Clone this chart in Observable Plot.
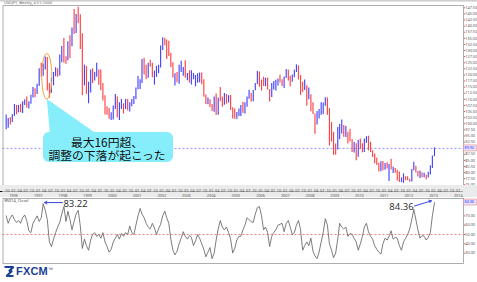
<!DOCTYPE html>
<html><head><meta charset="utf-8">
<script src="https://cdn.jsdelivr.net/npm/d3@7"></script>
<script src="https://cdn.jsdelivr.net/npm/@observablehq/plot@0.6"></script>
<style>
html,body{margin:0;padding:0;background:#fff;}
body{width:477px;height:282px;overflow:hidden;position:relative;font-family:Arial,"Liberation Sans",sans-serif;}
.abs{position:absolute;left:0;}
svg{display:block;}
</style></head><body>
<div id="main" class="abs" style="top:0"></div>
<div id="strip" class="abs" style="top:185px"></div>
<div id="rsi" class="abs" style="top:197px"></div>
<svg id="ov" class="abs" style="top:0;pointer-events:none" width="477" height="282"></svg>
<div id="logo" class="abs" style="top:265px;left:4px;display:flex;align-items:center;">
  <svg width="10" height="11" viewBox="0 0 10 11"><path d="M0.5 1 H9.5 L5 5 H8 L2.5 10 H9.5" fill="none" stroke="#1b3f95" stroke-width="2.2" stroke-linejoin="bevel"/></svg>
  <span style="font:bold 11px Arial,'Liberation Sans',sans-serif;color:#1b3f95;margin-left:2px;letter-spacing:0.2px">FXCM</span><span style="font:5px Arial;color:#1b3f95;align-self:flex-start;margin-top:1px">™</span>
</div>
<script>
// ---- data: USD/JPY monthly (Sep 1995 – Jan 2013) ----
const startMonth = [1995, 8];            // Sep 1995 (UTC month index)
const monthCount = 209;
const firstOpen = 97.6;
const close = [
99.6,102.0,101.6,103.5,
106.9,104.7,106.9,104.6,108.5,109.5,106.8,108.6,111.4,114.0,113.8,115.8,
121.2,120.1,123.9,126.9,116.4,114.6,118.4,120.6,120.6,120.3,127.8,130.5,
126.9,126.4,133.3,132.5,139.1,138.5,144.6,141.7,135.9,116.1,122.6,113.1,
116.1,118.7,118.5,119.6,121.6,120.8,114.7,109.8,106.1,104.3,102.1,102.2,
107.2,109.9,102.9,106.4,107.9,106.1,109.6,106.8,108.0,108.9,110.5,114.4,
116.6,117.4,126.1,123.4,118.9,124.7,124.6,118.9,119.4,122.6,123.7,131.5,
134.6,133.6,132.7,128.6,123.9,119.8,119.9,118.4,121.7,122.5,122.5,118.8,
119.9,117.9,118.0,119.0,119.3,119.8,120.6,116.9,111.3,109.6,109.7,107.2,
105.9,109.2,103.9,110.4,109.5,108.8,111.5,109.3,110.0,105.8,103.1,102.6,
103.6,104.6,107.2,104.9,108.4,110.8,112.4,111.1,113.4,116.4,119.8,117.8,
117.2,115.8,117.8,113.9,112.7,114.5,114.7,117.4,118.1,116.9,115.8,119.0,
121.0,118.6,117.8,119.5,121.7,123.2,118.7,115.8,114.8,115.3,111.1,111.7,
106.4,103.9,99.7,104.0,105.5,106.2,107.9,108.8,106.1,98.4,95.5,90.6,
89.9,97.6,98.1,98.6,95.3,96.4,94.7,93.1,89.7,90.3,86.3,93.1,
90.3,88.9,93.5,94.0,91.2,88.4,86.5,84.2,83.5,80.4,83.7,81.1,
82.1,81.8,83.1,81.2,81.5,80.5,76.7,76.6,77.1,78.2,77.6,76.9,
76.2,81.2,82.9,80.0,78.3,79.8,78.1,78.4,77.9,79.8,82.5,86.7,
89.9];
const high = [
103.6,102.2,102.6,103.7,
107.9,107.5,107.5,108.0,109.0,109.8,111.0,109.0,111.7,114.9,114.3,116.2,
122.5,124.8,124.5,127.3,127.1,116.5,118.8,121.0,122.9,122.5,128.2,131.6,
135.0,127.4,133.6,136.0,139.2,146.8,144.8,147.7,144.7,136.9,124.0,123.5,
117.0,122.0,122.5,121.0,124.8,122.0,122.0,116.5,111.5,107.0,106.2,104.5,
107.3,112.0,111.0,108.6,110.0,108.2,110.0,109.9,108.6,109.9,111.2,114.6,
119.4,118.0,126.3,126.8,124.0,124.8,126.0,124.8,121.6,123.5,124.0,131.8,
135.2,135.0,134.3,133.8,128.9,125.0,120.5,121.0,124.0,125.6,123.0,125.8,
120.6,121.7,121.7,120.6,119.8,120.5,120.8,120.8,118.0,111.8,110.6,109.8,
107.9,111.0,112.2,110.6,114.9,111.0,112.4,112.0,111.5,111.6,106.6,106.0,
104.6,106.0,107.5,108.8,108.6,111.0,113.7,112.4,113.6,116.5,121.4,121.2,
117.9,119.0,118.6,118.7,114.0,116.5,117.3,117.8,118.3,119.9,118.0,119.2,
122.2,122.0,119.5,120.0,121.9,124.1,123.7,119.8,117.0,117.9,115.6,114.6,
111.9,108.6,104.0,105.0,105.8,108.6,108.5,110.7,110.6,106.2,100.5,96.5,
91.7,98.5,99.7,101.5,99.3,98.9,96.5,97.8,93.4,92.3,91.8,93.2,
93.8,91.8,93.8,94.7,94.9,92.4,88.9,87.6,86.0,83.8,84.4,84.5,
83.7,84.0,83.3,85.5,82.2,81.7,81.0,80.2,77.8,79.5,78.3,78.3,
77.3,81.3,84.2,82.6,80.4,80.6,79.9,79.7,78.9,80.1,82.8,86.8,
90.1];
const low = [
97.5,98.2,99.5,100.5,
103.0,103.7,104.5,104.5,104.2,107.5,106.5,106.0,108.0,110.5,110.7,112.0,
115.4,119.0,119.5,122.0,113.4,110.6,112.5,115.5,119.3,119.0,119.6,125.0,
124.9,124.4,125.8,126.6,131.5,136.6,137.0,141.0,130.4,111.5,115.5,112.0,
108.2,112.6,116.5,117.5,119.0,115.8,113.5,109.3,103.6,103.5,101.8,101.3,
101.5,105.8,102.4,101.3,105.9,104.0,105.8,105.3,104.8,107.0,107.9,109.9,
113.9,114.0,116.5,120.0,118.0,118.6,123.3,118.8,115.8,119.0,120.5,122.8,
130.0,132.0,126.3,127.5,123.0,118.7,115.5,116.8,116.2,121.0,119.5,118.6,
117.6,116.7,115.9,118.0,115.1,116.6,116.8,116.0,110.9,107.9,107.8,106.7,
105.0,104.7,103.4,103.5,109.0,106.8,107.6,108.0,108.5,105.5,102.0,101.8,
101.7,103.0,103.0,104.2,104.0,106.8,110.0,108.8,109.0,113.5,116.1,115.0,
113.4,115.3,115.2,113.8,108.9,110.8,113.8,113.4,115.5,116.7,115.3,114.4,
118.5,117.5,115.2,117.0,118.8,121.0,117.9,111.6,112.8,113.6,107.2,109.8,
104.9,103.8,95.7,99.5,102.0,103.5,103.8,107.2,103.5,90.9,92.5,87.1,
87.1,89.2,93.4,95.8,94.5,94.4,91.7,92.6,88.2,88.0,84.8,86.3,
89.5,88.1,88.2,92.0,88.9,88.2,86.2,83.6,82.9,80.2,80.3,80.8,
81.0,81.5,76.3,81.1,79.6,79.7,76.6,75.9,75.9,75.6,76.7,76.8,
76.0,76.1,80.8,79.8,78.2,77.6,77.9,77.9,77.1,77.8,79.0,81.7,
86.5];
const rsi = [
70,62,68,71,66,63,65,62,68,71,
65,54,52,62,66,70,64,68,83.22,76,
66,42,37,45,52,58,63,72,80,64,
75,66,55,64,72,76,59,35,45,38,
33,44,50,52,48,50,46,52,42,37,
31,34,42,46,50,45,51,48,52,50,
59,52,50,60,70,78,72,68,62,58,
56,62,57,50,56,61,70,75,68,62,
45,33,28,32,40,46,53,48,45,
49,47,38,43,50,46,40,34,26,31,
36,24,30,44,56,65,58,55,58,52,
45,30,35,44,48,48,55,60,68,66,
64,63,72,79,80,70,55,58,52,37,
48,52,55,60,61,62,53,62,65,58,
50,52,60,65,55,33,38,42,38,46,
32,27,24,31,42,52,67,60,40,33,
25,30,45,62,58,56,58,48,51,50,
46,42,33,40,48,58,62,53,48,45,
38,34,31,29,40,46,44,48,54,45,
47,46,38,33,42,46,50,56,66,77,
66,55,46,49,48,44,
47,52,70,84.36];
const priceTicks = d3.range(75, 148, 2.5);
const rsiTicks = [30, 40, 50, 60, 70];
const callout = ["最大16円超、", "調整の下落が起こった"];

// ---- build table ----
const months = d3.utcMonth.range(new Date(Date.UTC(startMonth[0], startMonth[1], 1)),
                                 new Date(Date.UTC(startMonth[0], startMonth[1] + monthCount, 1)));
const data = months.map((m, i) => ({
  date: d3.utcDay.offset(m, 14),
  open: i ? close[i - 1] : firstOpen,
  close: close[i], high: high[i], low: low[i], rsi: rsi[i]
}));
const last = data[data.length - 1];
const BLUE = "#4545ff", RED = "#ff4343";
const xDomain = [new Date(Date.UTC(1995, 6, 30)), new Date(Date.UTC(2014, 2, 20))];
const ML = 2.5, MR = 14;
const FS = 3.8;
const fmt2 = d3.format(".2f");

// ---- main price panel ----
const main = Plot.plot({
  width: 477, height: 186, marginTop: 5, marginBottom: 1, marginLeft: ML, marginRight: MR,
  x: {type: "utc", domain: xDomain, axis: null},
  y: {domain: [74.71, 148.44], axis: null},
  color: {type: "identity"},
  style: {background: "#fff", overflow: "visible"},
  marks: [
    Plot.ruleY([last.close], {stroke: "#7a7aff", strokeDasharray: "2,2", strokeWidth: 0.8}),
    Plot.ruleX(data, {x: "date", y1: "low", y2: "high", stroke: d => d.close >= d.open ? BLUE : RED, strokeWidth: 1.15}),
    Plot.axisY({anchor: "right", ticks: priceTicks.filter(t => Math.abs(t - last.close) > 1.6), tickFormat: fmt2, fontSize: FS, tickSize: 1.2, tickPadding: 0.6, stroke: "#e05050", fill: "#555"}),
    Plot.frame({stroke: "#999", strokeWidth: 0.8}),
    Plot.text(["USDJPY, Weekly, #1(1:1000)"], {frameAnchor: "top-left", dx: 1, dy: -4.3, fontSize: FS, fill: "#555", textAnchor: "start", lineAnchor: "top"})
  ]
});
document.getElementById("main").append(main);

// ---- time axis strip ----
const quarters = d3.utcMonth.every(3).range(d3.utcMonth.offset(xDomain[0], 1), xDomain[1]);
const years = d3.utcYear.range(xDomain[0], xDomain[1]);
const strip = Plot.plot({
  width: 477, height: 12, marginTop: 0, marginBottom: 0, marginLeft: ML, marginRight: MR,
  x: {type: "utc", domain: xDomain, axis: null},
  style: {background: "#ebebeb"},
  marks: [
    Plot.ruleY([0], {frameAnchor: "top", stroke: "#aaa"}),
    Plot.text(quarters, {x: d => d, text: d3.utcFormat("%m"), frameAnchor: "top", dy: 3.3, fontSize: FS, fill: "#555"}),
    Plot.text(years, {x: d => d, text: d3.utcFormat("%Y"), frameAnchor: "top", dy: 8.6, fontSize: FS, fill: "#555"})
  ]
});
document.getElementById("strip").append(strip);

// ---- RSI panel ----
const peak1 = data.filter(d => d.date < new Date(Date.UTC(1999, 0, 1))).reduce((a, b) => b.rsi > a.rsi ? b : a);
const rsiPanel = Plot.plot({
  width: 477, height: 67, marginTop: 1, marginBottom: 1, marginLeft: ML, marginRight: MR,
  x: {type: "utc", domain: xDomain, axis: null},
  y: {domain: [18.8, 88.7], axis: null},
  style: {background: "#fff", overflow: "visible"},
  marks: [
    Plot.ruleY([50], {stroke: "#f06060", strokeDasharray: "2,2", strokeWidth: 0.8}),
    Plot.line(data, {x: "date", y: "rsi", stroke: "#666", strokeWidth: 0.85}),
    Plot.axisY({anchor: "right", ticks: rsiTicks, tickFormat: fmt2, fontSize: FS, tickSize: 1.2, tickPadding: 0.6, stroke: "#e05050", fill: "#555"}),
    Plot.frame({stroke: "#999", strokeWidth: 0.8}),
    Plot.text(["RSI(14, Close)"], {frameAnchor: "top-left", dx: 1.5, dy: 1, fontSize: FS, fill: "#444", lineAnchor: "top", textAnchor: "start"}),
    Plot.arrow([peak1], {x1: () => new Date(Date.UTC(1997, 11, 25)), y1: () => 84.3, x2: d => d3.utcDay.offset(d.date, 20), y2: () => 84.3,
      stroke: "#3848e0", strokeWidth: 1, headLength: 4, bend: 0}),
    Plot.text([peak1], {x: () => new Date(Date.UTC(1998, 0, 8)), y: () => 82.3, text: d => fmt2(d.rsi), textAnchor: "start", fontSize: 9.5, fill: "#333"}),
    Plot.arrow([last], {x1: () => new Date(Date.UTC(2012, 2, 25)), y1: () => 80.6, x2: d => d3.utcDay.offset(d.date, -45), y2: () => 86.2,
      stroke: "#3848e0", strokeWidth: 1, headLength: 4, bend: 0}),
    Plot.text([last], {x: () => new Date(Date.UTC(2012, 2, 12)), y: () => 80.1, text: d => fmt2(d.rsi), textAnchor: "end", fontSize: 9.5, fill: "#333"})
  ]
});
document.getElementById("rsi").append(rsiPanel);

// ---- overlay annotations (positioned with the plots' scales) ----
const sx = main.scale("x"), sy = main.scale("y");
const ry = rsiPanel.scale("y");
const ov = d3.select("#ov");
ov.append("rect").attr("x", 0).attr("y", 0).attr("width", 477).attr("height", 1.6).attr("fill", "#cfcfcf");
// ellipse around the 1997 correction (Apr–Jun 1997 bars)
const corr = data.filter(d => d.date >= new Date(Date.UTC(1997, 3, 1)) && d.date < new Date(Date.UTC(1997, 6, 1)));
const eTop = sy.apply(d3.max(corr, d => d.high) + 1.3), eBot = sy.apply(d3.min(corr, d => d.low) - 0.7);
const eCx = sx.apply(corr[1].date);
ov.append("ellipse").attr("cx", eCx).attr("cy", (eTop + eBot) / 2).attr("rx", 5).attr("ry", (eBot - eTop) / 2)
  .attr("fill", "none").attr("stroke", "#f5a23c").attr("stroke-width", 1);
// callout
const cg = ov.append("g");
cg.append("path").attr("d", `M${eCx},${eBot} L50,134 L97,134 Z`).attr("fill", "#86eefa");
cg.append("rect").attr("x", 43).attr("y", 132).attr("width", 130).attr("height", 30).attr("rx", 6).attr("fill", "#86eefa");
callout.forEach((t, i) => cg.append("text").attr("x", 107).attr("y", 146.5 + i * 13.5).attr("text-anchor", "middle")
  .attr("font-family", "'Noto Sans CJK JP','Noto Sans CJK SC',sans-serif").attr("font-size", 11.8).attr("fill", "#111").text(t));
// highlighted current-value labels on the right axes
function hl(y, txt) {
  ov.append("rect").attr("x", 463.5).attr("y", y - 3).attr("width", 13).attr("height", 6).attr("fill", "#e4e4ff").attr("stroke", "#f08a8a").attr("stroke-width", 0.6);
  ov.append("text").attr("x", 464.6).attr("y", y + 1.4).attr("font-size", FS).attr("fill", "#2a2aff").attr("font-family", "Arial,sans-serif").text(txt);
}
hl(sy.apply(last.close), fmt2(last.close));
hl(197 + ry.apply(last.rsi), fmt2(last.rsi));
</script>
</body></html>
